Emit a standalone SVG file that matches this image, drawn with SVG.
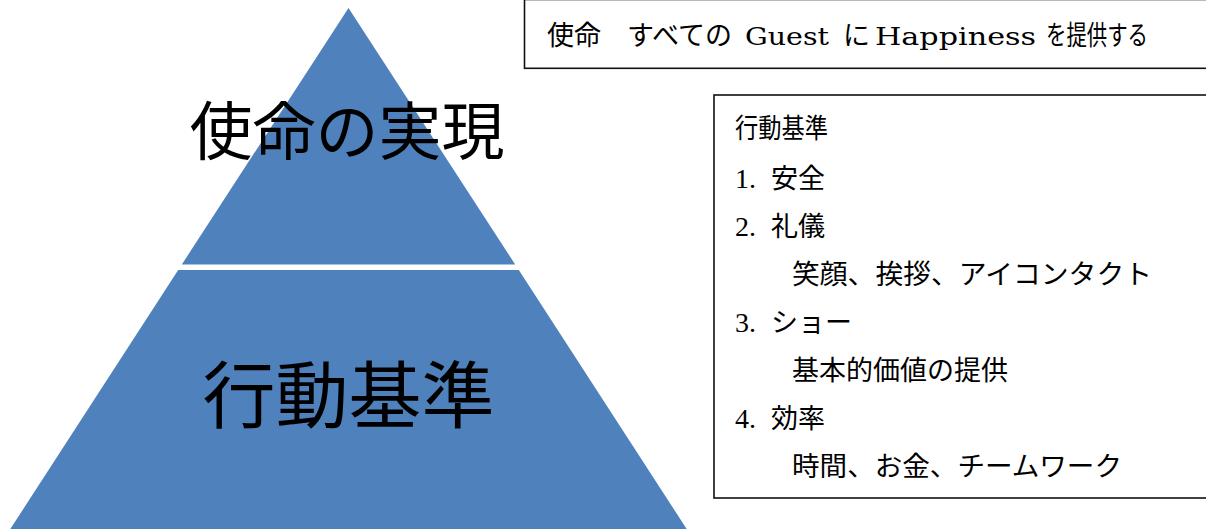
<svg xmlns="http://www.w3.org/2000/svg" width="1206" height="529" viewBox="0 0 1206 529">
<style>
.tri{fill:#4F81BD}
.big{font-family:"Liberation Serif","Noto Sans CJK JP",serif;fill:#000;text-anchor:middle}
.t{font-family:"Liberation Serif","Noto Sans CJK JP",serif;font-size:27px;fill:#000}
.lat{font-family:"DejaVu Serif","Liberation Serif",serif;font-size:25px;fill:#000}
.num{font-family:"Liberation Serif",serif;font-size:28px;fill:#000}
.box{fill:#fff;stroke:#111;stroke-width:1.6}
</style>
<rect width="1206" height="529" fill="#fff"/>
<g id="pyramid-top">
<polygon class="tri" points="348.5,8 181.8,264.5 515.2,264.5"/>
<text class="big" x="347" y="154" font-size="63">使命の実現</text>
</g>
<g id="pyramid-bottom">
<polygon class="tri" points="178.2,270 518.8,270 688,531 9,531"/>
<text class="big" x="348.5" y="422" font-size="73">行動基準</text>
</g>
<g id="mission-box">
<rect class="box" x="524.5" y="-0.5" width="700" height="68.8"/>
<text class="t" x="547" y="45">使命</text>
<text class="t" x="627" y="45">すべての</text>
<text class="lat" x="745" y="45" textLength="84" lengthAdjust="spacingAndGlyphs">Guest</text>
<text class="t" x="843" y="45">に</text>
<text class="lat" x="875" y="45" textLength="161" lengthAdjust="spacingAndGlyphs">Happiness</text>
<text class="t" x="1046" y="45" textLength="102" lengthAdjust="spacingAndGlyphs">を提供する</text>
</g>
<g id="standards-box">
<rect class="box" x="714" y="95" width="520" height="403"/>
<text class="t" x="735" y="138" font-size="24.5" textLength="93" lengthAdjust="spacingAndGlyphs">行動基準</text>
<text class="num" x="735" y="188">1.</text><text class="t" x="771" y="188">安全</text>
<text class="num" x="735" y="236">2.</text><text class="t" x="771" y="236">礼儀</text>
<text class="t" x="792" y="284" textLength="360" lengthAdjust="spacingAndGlyphs">笑顔、挨拶、アイコンタクト</text>
<text class="num" x="735" y="332">3.</text><text class="t" x="771" y="332">ショー</text>
<text class="t" x="792" y="380">基本的価値の提供</text>
<text class="num" x="735" y="428">4.</text><text class="t" x="771" y="428">効率</text>
<text class="t" x="792" y="476" textLength="330" lengthAdjust="spacingAndGlyphs">時間、お金、チームワーク</text>
</g>
<g id="connectors"/>
</svg>
